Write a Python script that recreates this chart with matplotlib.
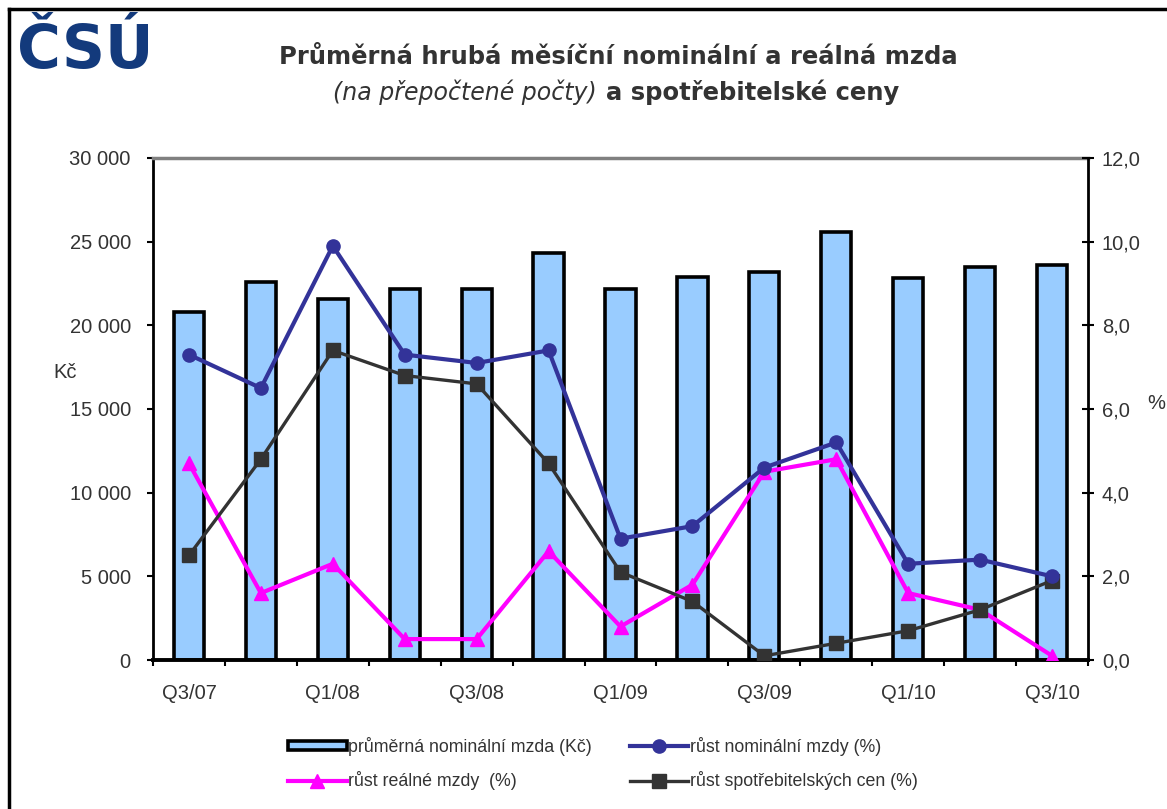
import matplotlib
matplotlib.use("Agg")
import matplotlib.pyplot as plt
from matplotlib.lines import Line2D
from matplotlib.patches import Patch
import numpy as np

plt.rcParams['font.family'] = ['Liberation Sans', 'DejaVu Sans']

# data
quarters = ['Q3/07', 'Q4/07', 'Q1/08', 'Q2/08', 'Q3/08', 'Q4/08', 'Q1/09',
            'Q2/09', 'Q3/09', 'Q4/09', 'Q1/10', 'Q2/10', 'Q3/10']
mzda = [20800, 22600, 21600, 22200, 22200, 24300, 22200,
        22900, 23200, 25600, 22800, 23500, 23600]
rust_nominalni = [7.3, 6.5, 9.9, 7.3, 7.1, 7.4, 2.9, 3.2, 4.6, 5.2, 2.3, 2.4, 2.0]
rust_realne = [4.7, 1.6, 2.3, 0.5, 0.5, 2.6, 0.8, 1.8, 4.5, 4.8, 1.6, 1.2, 0.1]
rust_cen = [2.5, 4.8, 7.4, 6.8, 6.6, 4.7, 2.1, 1.4, 0.1, 0.4, 0.7, 1.2, 1.9]

left_ticks = [0, 5000, 10000, 15000, 20000, 25000, 30000]
left_labels = ['0', '5 000', '10 000', '15 000', '20 000', '25 000', '30 000']
right_ticks = [0, 2, 4, 6, 8, 10, 12]
right_labels = ['0,0', '2,0', '4,0', '6,0', '8,0', '10,0', '12,0']

W, H = 1167, 809
txt = '#333333'
fig = plt.figure(figsize=(W / 100, H / 100), dpi=100)
ax = fig.add_axes([153 / W, 1 - 660 / H, (1088 - 153) / W, (660 - 158) / H])
ax2 = ax.twinx()

x = np.arange(len(quarters))
bars = ax.bar(x, mzda, width=0.42, color='#99CCFF', edgecolor='black', linewidth=2.6, zorder=2)

ax.set_xlim(-0.5, len(quarters) - 0.5)
ax.set_ylim(0, 30000)
ax.set_yticks(left_ticks)
ax.set_yticklabels(left_labels, fontsize=14.5, color=txt)
ax.tick_params(axis='y', direction='out', length=4, width=1.5, pad=12)

ax.set_xticks(x[::2])
ax.set_xticklabels(quarters[::2], fontsize=14.5, color=txt)
ax.set_xticks(np.arange(-0.5, len(quarters), 1.0), minor=True)
ax.tick_params(axis='x', which='major', length=0, pad=17)
ax.tick_params(axis='x', which='minor', direction='out', length=4, width=1.5)

ax.spines['top'].set_color('#808080')
ax.spines['top'].set_linewidth(2.5)
ax.spines['right'].set_visible(False)
ax.spines['left'].set_linewidth(2)
ax.spines['bottom'].set_linewidth(2.8)

# percent lines on the right axis
l1, = ax2.plot(x, rust_nominalni, color='#333399', lw=3, marker='o', ms=9.5, zorder=4)
l2, = ax2.plot(x, rust_realne, color='#FF00FF', lw=3, marker='^', ms=10.5, zorder=3)
l3, = ax2.plot(x, rust_cen, color='#333333', lw=2.4, marker='s', ms=10, zorder=3)
ax2.set_ylim(0, 12)
ax2.set_yticks(right_ticks)
ax2.set_yticklabels(right_labels, fontsize=14.5, color=txt)
ax2.tick_params(axis='y', direction='inout', length=8, width=1.5, pad=6)
for s in ['top', 'left', 'bottom']:
    ax2.spines[s].set_visible(False)
ax2.spines['right'].set_linewidth(2)

fig.text(53 / W, 1 - 372 / H, 'Kč', fontsize=14.5, color=txt, va='center', ha='left')
fig.text(1147 / W, 1 - 403 / H, '%', fontsize=14.5, color=txt, va='center', ha='left')

# titles
fig.text(618 / W, 1 - 57 / H, 'Průměrná hrubá měsíční nominální a reálná mzda',
         fontsize=17.5, fontweight='bold', color=txt, ha='center', va='center',
         family='DejaVu Sans')
fig.text(597 / W, 1 - 92 / H, '(na přepočtené počty)', fontsize=17, style='italic',
         color=txt, ha='right', va='center', family='DejaVu Sans')
fig.text(606 / W, 1 - 92 / H, 'a spotřebitelské ceny', fontsize=17.5, fontweight='bold',
         color=txt, ha='left', va='center', family='DejaVu Sans')

# logo
fig.text(17 / W, 1 - 68 / H, 'ČSÚ', fontsize=43, fontweight='bold', color='#133A7C',
         family='DejaVu Sans', ha='left', va='baseline')

# frame around the whole chart
fig.add_artist(Line2D([9 / W, 9 / W], [0, 1 - 9 / H], color='black', lw=2.5))
fig.add_artist(Line2D([9 / W, 1], [1 - 9 / H, 1 - 9 / H], color='black', lw=2.5))

handles = [Patch(facecolor='#99CCFF', edgecolor='black', linewidth=2.6), l1, l2, l3]
labels = ['průměrná nominální mzda (Kč)', 'růst nominální mzdy (%)',
          'růst reálné mzdy  (%)', 'růst spotřebitelských cen (%)']
order = [0, 2, 1, 3]
fig.legend([handles[i] for i in order], [labels[i] for i in order], ncol=2,
           loc='upper left', bbox_to_anchor=(272 / W, 1 - 721 / H), frameon=False,
           fontsize=12.8, handlelength=3.3, handleheight=0.45, handletextpad=0.1,
           columnspacing=2.1, labelspacing=0.85, labelcolor=txt)

fig.savefig('out.png', dpi=100)
